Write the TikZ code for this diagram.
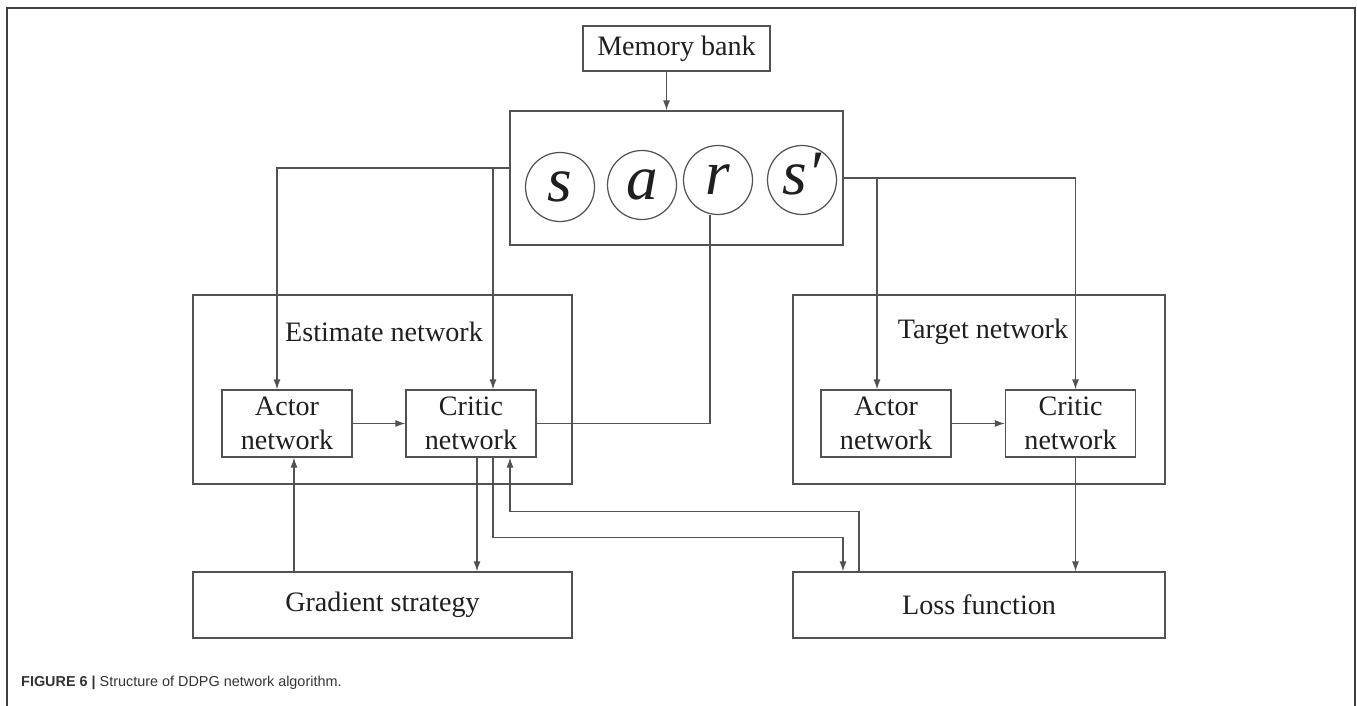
\documentclass[tikz,border=0pt]{standalone}
\usepackage{fontspec}
\setmainfont{Liberation Serif}
\setsansfont{Liberation Sans}
\usetikzlibrary{arrows.meta,positioning,calc}

\begin{document}
\begin{tikzpicture}[
  every node/.style={font=\fontsize{16}{19}\selectfont, text=black!88},
  box/.style={draw=black!68, line width=0.7pt, inner sep=0pt},
  net/.style={box, minimum width=2.6cm, minimum height=1.34cm, align=center},
  wide/.style={box, minimum height=1.32cm},
  var/.style={draw=black!68, line width=0.7pt, circle, minimum size=1.38cm, inner sep=0pt,
    font=\fontsize{36}{36}\selectfont\itshape},
  link/.style={draw=black!68, line width=0.7pt},
  >={Latex[length=2mm,width=1.4mm]}
]
  \useasboundingbox (0,0) rectangle (27.14,-14.12);

  % page frame
  \draw[black!75, line width=0.6pt] (0.14,-14.12) -- (0.14,-0.16) -- (27.1,-0.16) -- (27.1,-14.12);

  % replay memory
  \node[box, minimum width=3.74cm, minimum height=0.9cm] (mem) at (13.53,-0.97) {Memory bank};
  \node[box, minimum width=6.66cm, minimum height=2.68cm] (bank) at (13.53,-3.56) {};
  \node[var] (s) at (11.2,-3.74) {s};
  \node[var] (a) at (12.84,-3.7) {a};
  \node[var] (r) at (14.36,-3.6) {r};
  \node[var] (sp) at (16.04,-3.6) {s\smash{′}};

  % estimate and target networks
  \node[box, minimum width=7.58cm, minimum height=3.78cm] (est) at (7.65,-7.79) {};
  \node (elab) at (7.68,-6.64) {Estimate network};
  \node[net] (eact) at (5.74,-8.47) {Actor\\network};
  \node[net] (ecrit) at (9.42,-8.47) {Critic\\network};

  \node[box, minimum width=7.44cm, minimum height=3.78cm] (tgt) at (19.58,-7.79) {};
  \node (tlab) at (19.66,-6.64) {Target network};
  \node[net] (tact) at (17.72,-8.47) {Actor\\network};
  \node[net] (tcrit) at (21.41,-8.47) {Critic\\network};

  \node[wide, minimum width=7.58cm] (grad) at (7.65,-12.1) {Gradient strategy};
  \node[wide, minimum width=7.44cm] (loss) at (19.58,-12.1) {Loss function};

  % helper points
  \coordinate (lft) at ([yshift=0.2cm]bank.west);
  \coordinate (eain) at ([xshift=-0.2cm]eact.north);
  \coordinate (ecin) at ([xshift=0.44cm]ecrit.north);
  \coordinate (tain) at ([xshift=-0.18cm]tact.north);
  \coordinate (tcin) at ([xshift=0.1cm]tcrit.north);
  \coordinate (gx) at ([xshift=0.14cm]eact.south);
  \coordinate (ecg) at ([xshift=0.12cm]ecrit.south);
  \coordinate (ecl) at ([xshift=0.44cm]ecrit.south);
  \coordinate (ecb) at ([xshift=0.78cm]ecrit.south);
  \coordinate (lin) at ([xshift=-2.72cm]loss.north);
  \coordinate (lout) at ([xshift=-2.4cm]loss.north);

  \draw[link, ->] ([xshift=-0.2cm]mem.south) -- ([xshift=-0.2cm]mem.south |- bank.north);
  \draw[link, ->] (lft) -| (eain);
  \draw[link, ->] (ecin |- lft) -- (ecin);
  \draw[link, ->] (bank.east) -| (tcin);
  \draw[link, ->] (tain |- bank.east) -- (tain);
  \draw[link] ([xshift=-0.16cm]r.south) |- (ecrit.east);

  \draw[link, ->] (eact) -- (ecrit);
  \draw[link, ->] (tact) -- (tcrit);

  \draw[link, ->] (gx |- grad.north) -- (gx);
  \draw[link, ->] (ecg) -- (ecg |- grad.north);
  \draw[link, ->] (ecl) -- ++(0,-1.6) -| (lin);
  \draw[link, ->] (lout) -- ++(0,1.2) -| (ecb);
  \draw[link, ->] (tcin |- tcrit.south) -- (tcin |- loss.north);

  % caption
  \node[anchor=west, font=\sffamily\fontsize{8.2}{10}\selectfont, text=black!80] (cap) at (0.3,-13.66)
    {\textbf{FIGURE 6 |} Structure of DDPG network algorithm.};
\end{tikzpicture}
\end{document}
